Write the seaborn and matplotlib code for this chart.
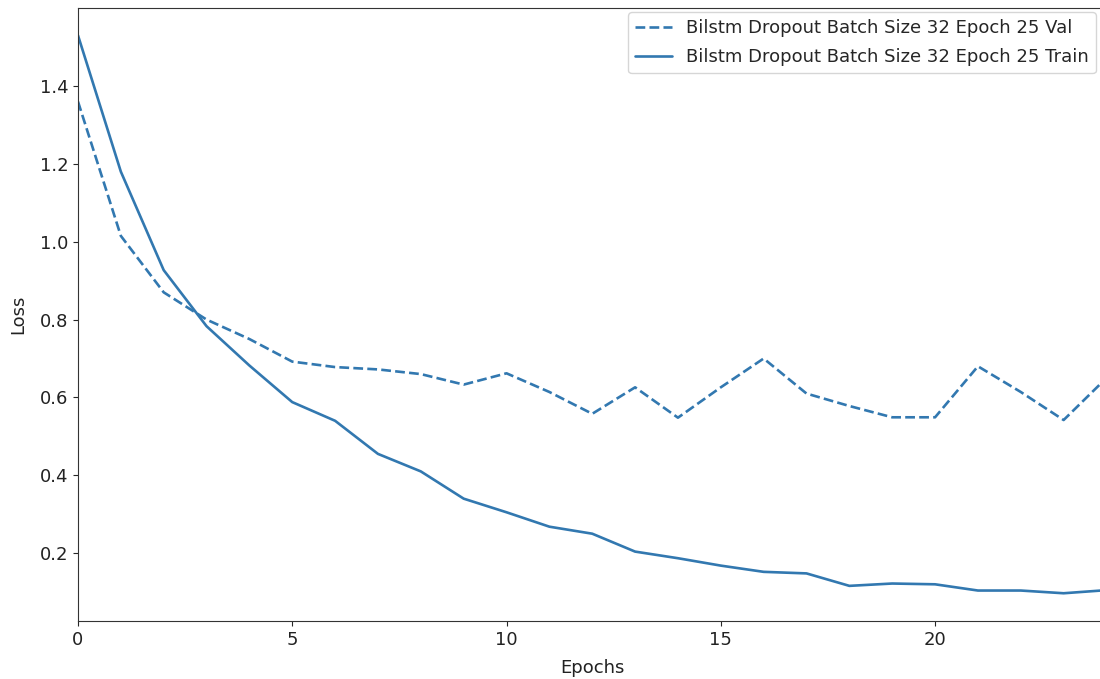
import numpy as np
import pandas as pd
import matplotlib
matplotlib.use("Agg")
import matplotlib.pyplot as plt
import seaborn as sns

epochs = list(range(25))
val_loss = [1.36, 1.015, 0.87, 0.80, 0.75, 0.692, 0.678, 0.672, 0.66, 0.633, 0.662,
            0.614, 0.558, 0.626, 0.548, 0.626, 0.70, 0.61, 0.578, 0.549, 0.549,
            0.68, 0.614, 0.542, 0.65]
train_loss = [1.53, 1.18, 0.927, 0.783, 0.682, 0.588, 0.54, 0.455, 0.41, 0.34, 0.305,
              0.268, 0.25, 0.204, 0.187, 0.168, 0.152, 0.148, 0.116, 0.122, 0.12,
              0.104, 0.104, 0.097, 0.105]
val_label = "Bilstm Dropout Batch Size 32 Epoch 25 Val"
train_label = "Bilstm Dropout Batch Size 32 Epoch 25 Train"

sns.set_style("ticks")
plt.rcParams['font.family'] = ['DejaVu Sans']
fs = 13

fig = plt.figure(figsize=(11, 6.79), dpi=100)
ax = fig.add_axes([0.0709, 0.085, 0.935, 0.903])

color = "#3278b0"
df_val = pd.DataFrame({"Epochs": epochs, "Loss": val_loss})
df_train = pd.DataFrame({"Epochs": epochs, "Loss": train_loss})
sns.lineplot(data=df_val, x="Epochs", y="Loss", ax=ax, color=color,
             linestyle="--", linewidth=1.9, label=val_label)
sns.lineplot(data=df_train, x="Epochs", y="Loss", ax=ax, color=color,
             linestyle="-", linewidth=1.9, label=train_label)

ax.set_xlim(0, 24)
ax.set_ylim(0.025, 1.6)
ax.set_xticks([0, 5, 10, 15, 20])
ax.set_yticks([0.2, 0.4, 0.6, 0.8, 1.0, 1.2, 1.4])
ax.set_xlabel("Epochs", fontsize=fs, color="#222222", labelpad=7)
ax.set_ylabel("Loss", fontsize=fs, color="#222222", labelpad=9)
ax.tick_params(labelsize=fs, labelcolor="#222222")
for s in ax.spines.values():
    s.set_color("#333333")
ax.legend(loc="upper right", fontsize=fs, frameon=True, handlelength=2.0,
          borderaxespad=0.0, labelspacing=0.6,
          bbox_to_anchor=(1096 / 1100, 1 - 12 / 679), bbox_transform=fig.transFigure)

fig.savefig("out.png", dpi=100)
